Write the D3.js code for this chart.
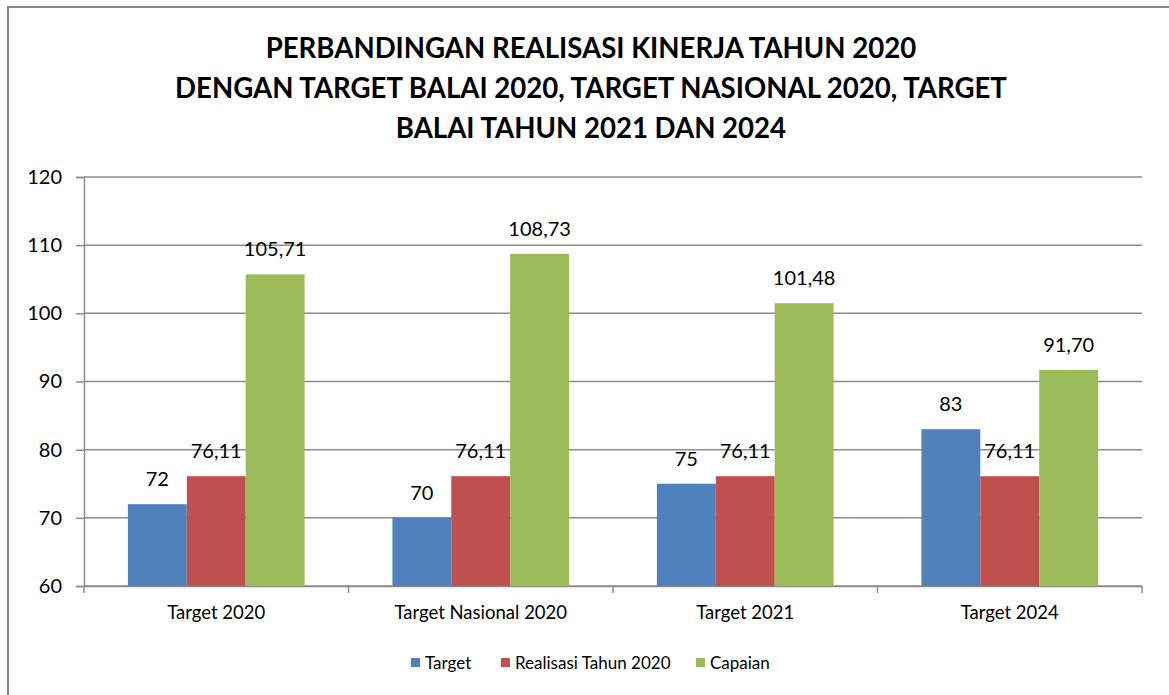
<!DOCTYPE html>
<html>
<head>
<meta charset="utf-8">
<script src="https://cdn.jsdelivr.net/npm/d3@7"></script>
<style>
  body { margin: 0; background: #fff; }
  text { font-family: Lato, "Open Sans", sans-serif; fill: #000; }
</style>
</head>
<body>
<div id="chart"></div>
<script>
var titleLines = ["PERBANDINGAN REALISASI KINERJA TAHUN 2020",
                  "DENGAN TARGET BALAI 2020, TARGET NASIONAL 2020, TARGET",
                  "BALAI TAHUN 2021 DAN 2024"];
var categories = ["Target 2020", "Target Nasional 2020", "Target 2021", "Target 2024"];
var seriesNames = ["Target", "Realisasi Tahun 2020", "Capaian"];
var seriesColors = ["#4F81BD", "#C0504D", "#9BBB59"];
var target = [72, 70, 75, 83];
var realisasi = [76.11, 76.11, 76.11, 76.11];
var capaian = [105.71, 108.73, 101.48, 91.70];
var yTicks = [60, 70, 80, 90, 100, 110, 120];

var width = 1169, height = 695;
var plot = {left: 84, right: 1142, top: 177, bottom: 586};

var svg = d3.select("#chart").append("svg")
  .attr("width", width)
  .attr("height", height);

// outer frame
svg.append("rect")
  .attr("x", 8).attr("y", 7)
  .attr("width", width + 20).attr("height", height + 20)
  .attr("fill", "none")
  .attr("stroke", "#878787")
  .attr("stroke-width", 2);

// TITLE
svg.selectAll(".title")
  .data(titleLines)
  .enter().append("text")
  .attr("class", "title")
  .attr("x", 591)
  .attr("y", function(d, i) { return 58 + i * 40; })
  .attr("text-anchor", "middle")
  .style("font-size", "27.6px")
  .style("font-weight", "bold")
  .text(function(d) { return d; });

var y = d3.scaleLinear().domain([60, 120]).range([plot.bottom, plot.top]);
var x0 = d3.scaleBand().domain(categories).range([plot.left, plot.right]);
var pad = x0.bandwidth() * 0.166;
var x1 = d3.scaleBand().domain(seriesNames).range([pad, x0.bandwidth() - pad]);

// grid
svg.selectAll(".grid")
  .data(yTicks)
  .enter().append("line")
  .attr("x1", plot.left).attr("x2", plot.right)
  .attr("y1", function(d) { return y(d); })
  .attr("y2", function(d) { return y(d); })
  .attr("stroke", "#8c8c8c")
  .attr("stroke-width", 1.5);

// AXIS
var yAxis = svg.append("g")
  .attr("transform", "translate(" + plot.left + ",0)")
  .call(d3.axisLeft(y).tickValues(yTicks).tickSize(8).tickPadding(14));
yAxis.select(".domain").attr("stroke", "#8c8c8c").attr("stroke-width", 1.5);
yAxis.selectAll(".tick line").attr("stroke", "#8c8c8c").attr("stroke-width", 1.5);
yAxis.selectAll("text").style("font-size", "20px").attr("fill", "#000");

var xAxis = svg.append("g")
  .attr("transform", "translate(0," + plot.bottom + ")")
  .call(d3.axisBottom(x0).tickSize(0).tickPadding(20));
xAxis.select(".domain").attr("stroke", "#8c8c8c").attr("stroke-width", 1.5);
xAxis.selectAll("text").style("font-size", "18.5px").attr("fill", "#000");

var edges = categories.map(function(c) { return x0(c); }).concat([plot.right]);
svg.selectAll(".xtick")
  .data(edges)
  .enter().append("line")
  .attr("x1", function(d) { return d; }).attr("x2", function(d) { return d; })
  .attr("y1", plot.bottom).attr("y2", plot.bottom + 7)
  .attr("stroke", "#8c8c8c")
  .attr("stroke-width", 1.5);

// BARS
var rows = categories.map(function(c, i) {
  return [target[i], realisasi[i], capaian[i]];
});

var groups = svg.selectAll(".group")
  .data(rows)
  .enter().append("g")
  .attr("transform", function(d, i) { return "translate(" + x0(categories[i]) + ",0)"; });

groups.selectAll("rect")
  .data(function(d) { return d; })
  .enter().append("rect")
  .attr("x", function(d, j) { return x1(seriesNames[j]); })
  .attr("width", x1.bandwidth())
  .attr("y", function(d) { return y(d); })
  .attr("height", function(d) { return plot.bottom - y(d); })
  .attr("fill", function(d, j) { return seriesColors[j]; });

groups.selectAll(".label")
  .data(function(d) { return d; })
  .enter().append("text")
  .attr("class", "label")
  .attr("x", function(d, j) { return x1(seriesNames[j]) + x1.bandwidth() / 2; })
  .attr("y", function(d) { return y(d) - 18; })
  .attr("text-anchor", "middle")
  .style("font-size", "20px")
  .text(function(d, j) {
    return j == 0 ? d3.format("d")(d) : d3.format(".2f")(d).replace(".", ",");
  });

// LEGEND
var legendX = [411, 501, 696];
var legend = svg.selectAll(".legend")
  .data(seriesNames)
  .enter().append("g")
  .attr("transform", function(d, i) { return "translate(" + legendX[i] + ",658)"; });

legend.append("rect")
  .attr("width", 9).attr("height", 9)
  .attr("fill", function(d, i) { return seriesColors[i]; });

legend.append("text")
  .attr("x", 14).attr("y", 11)
  .style("font-size", "17px")
  .text(function(d) { return d; });
</script>
</body>
</html>
